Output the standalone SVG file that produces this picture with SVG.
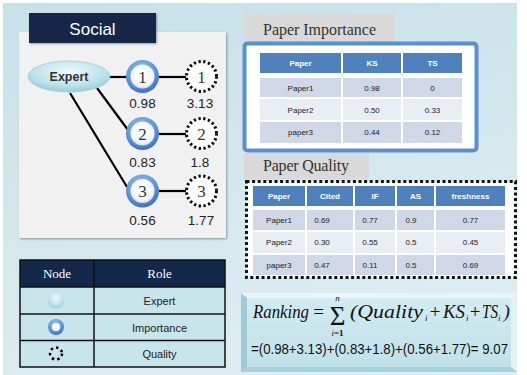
<svg xmlns="http://www.w3.org/2000/svg" width="527" height="375" viewBox="0 0 527 375">
<defs>
<linearGradient id="bg" x1="0" y1="0" x2="0.3" y2="1">
<stop offset="0" stop-color="#c6e1e8"/>
<stop offset="1" stop-color="#ddedf1"/>
</linearGradient>
<radialGradient id="sph" cx="0.5" cy="0.35" r="0.7">
<stop offset="0" stop-color="#eefafc"/>
<stop offset="0.6" stop-color="#bfe4ec"/>
<stop offset="1" stop-color="#8fc8d6"/>
</radialGradient>
<radialGradient id="ring" cx="0.45" cy="0.35" r="0.65">
<stop offset="0" stop-color="#a9ccf2"/>
<stop offset="0.7" stop-color="#5a93dc"/>
<stop offset="1" stop-color="#3a6fbf"/>
</radialGradient>
<radialGradient id="inner" cx="0.5" cy="0.4" r="0.6">
<stop offset="0" stop-color="#ffffff"/>
<stop offset="0.8" stop-color="#f2f4f8"/>
<stop offset="1" stop-color="#d4dbe6"/>
</radialGradient>
<linearGradient id="fbox" x1="0" y1="0" x2="0" y2="1">
<stop offset="0" stop-color="#d3ecf2"/>
<stop offset="1" stop-color="#bfe0e9"/>
</linearGradient>
<filter id="sh" x="-10%" y="-10%" width="120%" height="120%">
<feDropShadow dx="1" dy="1" stdDeviation="1.2" flood-color="#000" flood-opacity="0.35"/>
</filter>
</defs>
<style>
.num{font-family:"Liberation Serif",serif;font-size:17px;fill:#333;text-anchor:middle}
.lab{font-family:"Liberation Sans",Arial,sans-serif;font-size:13.5px;fill:#222;text-anchor:middle}
.edge{stroke:#000;stroke-width:2.2;fill:none}
.th{font-family:"Liberation Sans",Arial,sans-serif;font-size:8px;font-weight:bold;fill:#fff;text-anchor:middle}
.td{font-family:"Liberation Sans",Arial,sans-serif;font-size:8px;fill:#222;text-anchor:middle}
.title{font-family:"Liberation Serif",serif;font-size:16px;fill:#333}
.hdr{fill:#4f81bd}
.r1{fill:#d0d8e8}
.r2{fill:#e9edf4}
.qn{fill:#fff;stroke:#000;stroke-width:3;stroke-dasharray:2.2 2.6}
.leg{font-family:"Liberation Sans",Arial,sans-serif;font-size:11px;fill:#222;text-anchor:middle}
.legh{font-family:"Liberation Serif",serif;font-size:13px;fill:#fff;text-anchor:middle}
.fm{font-family:"Liberation Serif",serif;font-size:19px;font-style:italic;fill:#111}
.fo{font-family:"Liberation Serif",serif;font-size:19px;fill:#111;text-anchor:middle}
.fs{font-family:"Liberation Serif",serif;font-size:9px;font-style:italic;fill:#111}
</style>
<rect x="0" y="0" width="527" height="375" fill="#ffffff"/>
<rect x="3" y="3" width="514" height="372" fill="url(#bg)"/>

<!-- Social panel -->
<g id="social-panel">
<rect x="19" y="32" width="207" height="206" fill="#f1f1f1" filter="url(#sh)"/>
<rect x="29" y="13" width="127" height="30" fill="#14284a" filter="url(#sh)"/>
<text x="92.5" y="35" font-family="'Liberation Sans',Arial,sans-serif" font-size="17" fill="#fff" text-anchor="middle">Social</text>
</g>

<g id="connectors">
<line class="edge" x1="109" y1="77" x2="127" y2="77"/>
<line class="edge" x1="159" y1="77" x2="186" y2="77"/>
<line class="edge" x1="97" y1="88" x2="128" y2="130"/>
<line class="edge" x1="159" y1="134" x2="186" y2="134"/>
<line class="edge" x1="70" y1="93" x2="127" y2="187"/>
<line class="edge" x1="159" y1="191" x2="186" y2="191"/>
</g>

<g id="expert">
<ellipse cx="69" cy="76.5" rx="41" ry="15.5" fill="url(#sph)" stroke="#9ccfdb" stroke-width="0.8"/>
<text x="69" y="81" font-family="'Liberation Sans',Arial,sans-serif" font-size="12.5" font-weight="bold" fill="#333" text-anchor="middle">Expert</text>
</g>

<g id="imp1">
<circle cx="142.5" cy="76.5" r="16.5" fill="url(#ring)"/>
<circle cx="142.5" cy="76.5" r="12" fill="url(#inner)"/>
<text class="num" x="142.5" y="82.5">1</text>
<text class="lab" x="142.5" y="108">0.98</text>
</g>
<g id="imp2">
<circle cx="142.5" cy="133.5" r="16.5" fill="url(#ring)"/>
<circle cx="142.5" cy="133.5" r="12" fill="url(#inner)"/>
<text class="num" x="142.5" y="139.5">2</text>
<text class="lab" x="142.5" y="167">0.83</text>
</g>
<g id="imp3">
<circle cx="142.5" cy="191" r="16.5" fill="url(#ring)"/>
<circle cx="142.5" cy="191" r="12" fill="url(#inner)"/>
<text class="num" x="142.5" y="197">3</text>
<text class="lab" x="142.5" y="225">0.56</text>
</g>

<g id="q1">
<circle class="qn" cx="201.5" cy="76.5" r="15"/>
<text class="num" x="201.5" y="82.5">1</text>
<text class="lab" x="200" y="108">3.13</text>
</g>
<g id="q2">
<circle class="qn" cx="201.5" cy="133.5" r="15"/>
<text class="num" x="201.5" y="139.5">2</text>
<text class="lab" x="200" y="167">1.8</text>
</g>
<g id="q3">
<circle class="qn" cx="201.5" cy="191" r="15"/>
<text class="num" x="201.5" y="197">3</text>
<text class="lab" x="201" y="225">1.77</text>
</g>

<!-- Legend -->
<g id="legend">
<rect x="20" y="260" width="205" height="27" fill="#14284a"/>
<rect x="20" y="287" width="205" height="80" fill="#c9e5ec"/>
<g stroke="#111" stroke-width="1.5" fill="none">
<rect x="20" y="260" width="205" height="107"/>
<line x1="94" y1="260" x2="94" y2="367"/>
<line x1="20" y1="287" x2="225" y2="287"/>
<line x1="20" y1="314" x2="225" y2="314"/>
<line x1="20" y1="340.5" x2="225" y2="340.5"/>
</g>
<text class="legh" x="57" y="278">Node</text>
<text class="legh" x="159.5" y="278">Role</text>
<circle cx="56" cy="300.5" r="8" fill="url(#sph)"/>
<circle cx="56" cy="327" r="8" fill="url(#ring)"/>
<circle cx="56" cy="327" r="4" fill="#fff"/>
<circle cx="56" cy="353.5" r="6" fill="none" stroke="#000" stroke-width="2.5" stroke-dasharray="2.5 3"/>
<text class="leg" x="159.5" y="305">Expert</text>
<text class="leg" x="159.5" y="331.5">Importance</text>
<text class="leg" x="159.5" y="358">Quality</text>
</g>

<!-- Paper Importance -->
<g id="paper-importance">
<rect x="244" y="14" width="151" height="31" fill="#d9d9d9"/>
<text class="title" x="263" y="35" textLength="113">Paper Importance</text>
<rect x="244.5" y="43.5" width="232" height="107" rx="3" fill="#fff" stroke="#5b8fd4" stroke-width="4"/>
<rect class="hdr" x="260" y="53" width="81" height="20"/>
<rect class="hdr" x="343" y="53" width="58" height="20"/>
<rect class="hdr" x="403" y="53" width="59" height="20"/>
<rect class="r1" x="260" y="78" width="81" height="19"/>
<rect class="r1" x="343" y="78" width="58" height="19"/>
<rect class="r1" x="403" y="78" width="59" height="19"/>
<rect class="r2" x="260" y="99" width="81" height="21"/>
<rect class="r2" x="343" y="99" width="58" height="21"/>
<rect class="r2" x="403" y="99" width="59" height="21"/>
<rect class="r1" x="260" y="122" width="81" height="21"/>
<rect class="r1" x="343" y="122" width="58" height="21"/>
<rect class="r1" x="403" y="122" width="59" height="21"/>
<text class="th" x="300.5" y="66">Paper</text>
<text class="th" x="372" y="66">KS</text>
<text class="th" x="432.5" y="66">TS</text>
<text class="td" x="300.5" y="90.5">Paper1</text>
<text class="td" x="372" y="90.5">0.98</text>
<text class="td" x="432.5" y="90.5">0</text>
<text class="td" x="300.5" y="112.5">Paper2</text>
<text class="td" x="372" y="112.5">0.50</text>
<text class="td" x="432.5" y="112.5">0.33</text>
<text class="td" x="300.5" y="135">paper3</text>
<text class="td" x="372" y="135">0.44</text>
<text class="td" x="432.5" y="135">0.12</text>
</g>

<!-- Paper Quality -->
<g id="paper-quality">
<rect x="244" y="153" width="125" height="26" fill="#d9d9d9"/>
<text class="title" x="263" y="171" textLength="86">Paper Quality</text>
<rect x="246.5" y="181.5" width="269" height="96" fill="#fff" stroke="#111" stroke-width="3" stroke-dasharray="3 2.6"/>
<rect class="hdr" x="253" y="186" width="52" height="20"/>
<rect class="hdr" x="307" y="186" width="46" height="20"/>
<rect class="hdr" x="355" y="186" width="40" height="20"/>
<rect class="hdr" x="397" y="186" width="37" height="20"/>
<rect class="hdr" x="436" y="186" width="69" height="20"/>
<rect class="r1" x="253" y="210" width="52" height="20"/>
<rect class="r1" x="307" y="210" width="46" height="20"/>
<rect class="r1" x="355" y="210" width="40" height="20"/>
<rect class="r1" x="397" y="210" width="37" height="20"/>
<rect class="r1" x="436" y="210" width="69" height="20"/>
<rect class="r2" x="253" y="232" width="52" height="21"/>
<rect class="r2" x="307" y="232" width="46" height="21"/>
<rect class="r2" x="355" y="232" width="40" height="21"/>
<rect class="r2" x="397" y="232" width="37" height="21"/>
<rect class="r2" x="436" y="232" width="69" height="21"/>
<rect class="r1" x="253" y="255" width="52" height="20"/>
<rect class="r1" x="307" y="255" width="46" height="20"/>
<rect class="r1" x="355" y="255" width="40" height="20"/>
<rect class="r1" x="397" y="255" width="37" height="20"/>
<rect class="r1" x="436" y="255" width="69" height="20"/>
<text class="th" x="279" y="199">Paper</text>
<text class="th" x="330" y="199">Cited</text>
<text class="th" x="375" y="199">IF</text>
<text class="th" x="415.5" y="199">AS</text>
<text class="th" x="470.5" y="199">freshness</text>
<text class="td" x="279" y="223">Paper1</text>
<text class="td" x="322" y="223">0.69</text>
<text class="td" x="370" y="223">0.77</text>
<text class="td" x="411" y="223">0.9</text>
<text class="td" x="470.5" y="223">0.77</text>
<text class="td" x="279" y="245">Paper2</text>
<text class="td" x="322" y="245">0.30</text>
<text class="td" x="370" y="245">0.55</text>
<text class="td" x="411" y="245">0.5</text>
<text class="td" x="470.5" y="245">0.45</text>
<text class="td" x="279" y="268">paper3</text>
<text class="td" x="322" y="268">0.47</text>
<text class="td" x="370" y="268">0.11</text>
<text class="td" x="411" y="268">0.5</text>
<text class="td" x="470.5" y="268">0.69</text>
</g>

<!-- Formula -->
<g id="formula">
<rect x="241" y="293" width="276" height="79" fill="url(#fbox)"/>
<polygon points="241,293 517,293 511,298 247,298" fill="#e9f6f9"/>
<polygon points="241,293 247,298 247,367 241,372" fill="#9fc9d6"/>
<polygon points="517,293 517,372 511,367 511,298" fill="#e3f2f6"/>
<polygon points="241,372 247,367 511,367 517,372" fill="#a8d0dc"/>
<text class="fm" x="253" y="318" textLength="56" lengthAdjust="spacingAndGlyphs">Ranking</text>
<text class="fo" x="318.5" y="318">=</text>
<text x="337.5" y="325" font-family="'Liberation Serif',serif" font-size="27" fill="#111" text-anchor="middle">Σ</text>
<text class="fs" x="337.5" y="301" text-anchor="middle">n</text>
<text x="337.5" y="336" font-family="'Liberation Serif',serif" font-size="9" fill="#111" text-anchor="middle"><tspan font-style="italic">i</tspan>=<tspan font-weight="bold">1</tspan></text>
<text class="fm" x="350" y="318" textLength="73" lengthAdjust="spacingAndGlyphs">(Quality</text>
<text class="fs" x="425" y="321">i</text>
<text class="fo" x="435" y="318">+</text>
<text class="fm" x="443" y="318" textLength="22" lengthAdjust="spacingAndGlyphs">KS</text>
<text class="fs" x="466" y="321">i</text>
<text class="fo" x="475" y="318">+</text>
<text class="fm" x="482" y="318" textLength="16" lengthAdjust="spacingAndGlyphs">TS</text>
<text class="fs" x="498" y="321">i</text>
<text class="fm" x="503.5" y="318" font-style="normal">)</text>
<text x="251" y="354" font-family="'Liberation Sans',Arial,sans-serif" font-size="14" fill="#111" textLength="257" lengthAdjust="spacingAndGlyphs">=(0.98+3.13)+(0.83+1.8)+(0.56+1.77)= 9.07</text>
</g>
</svg>
